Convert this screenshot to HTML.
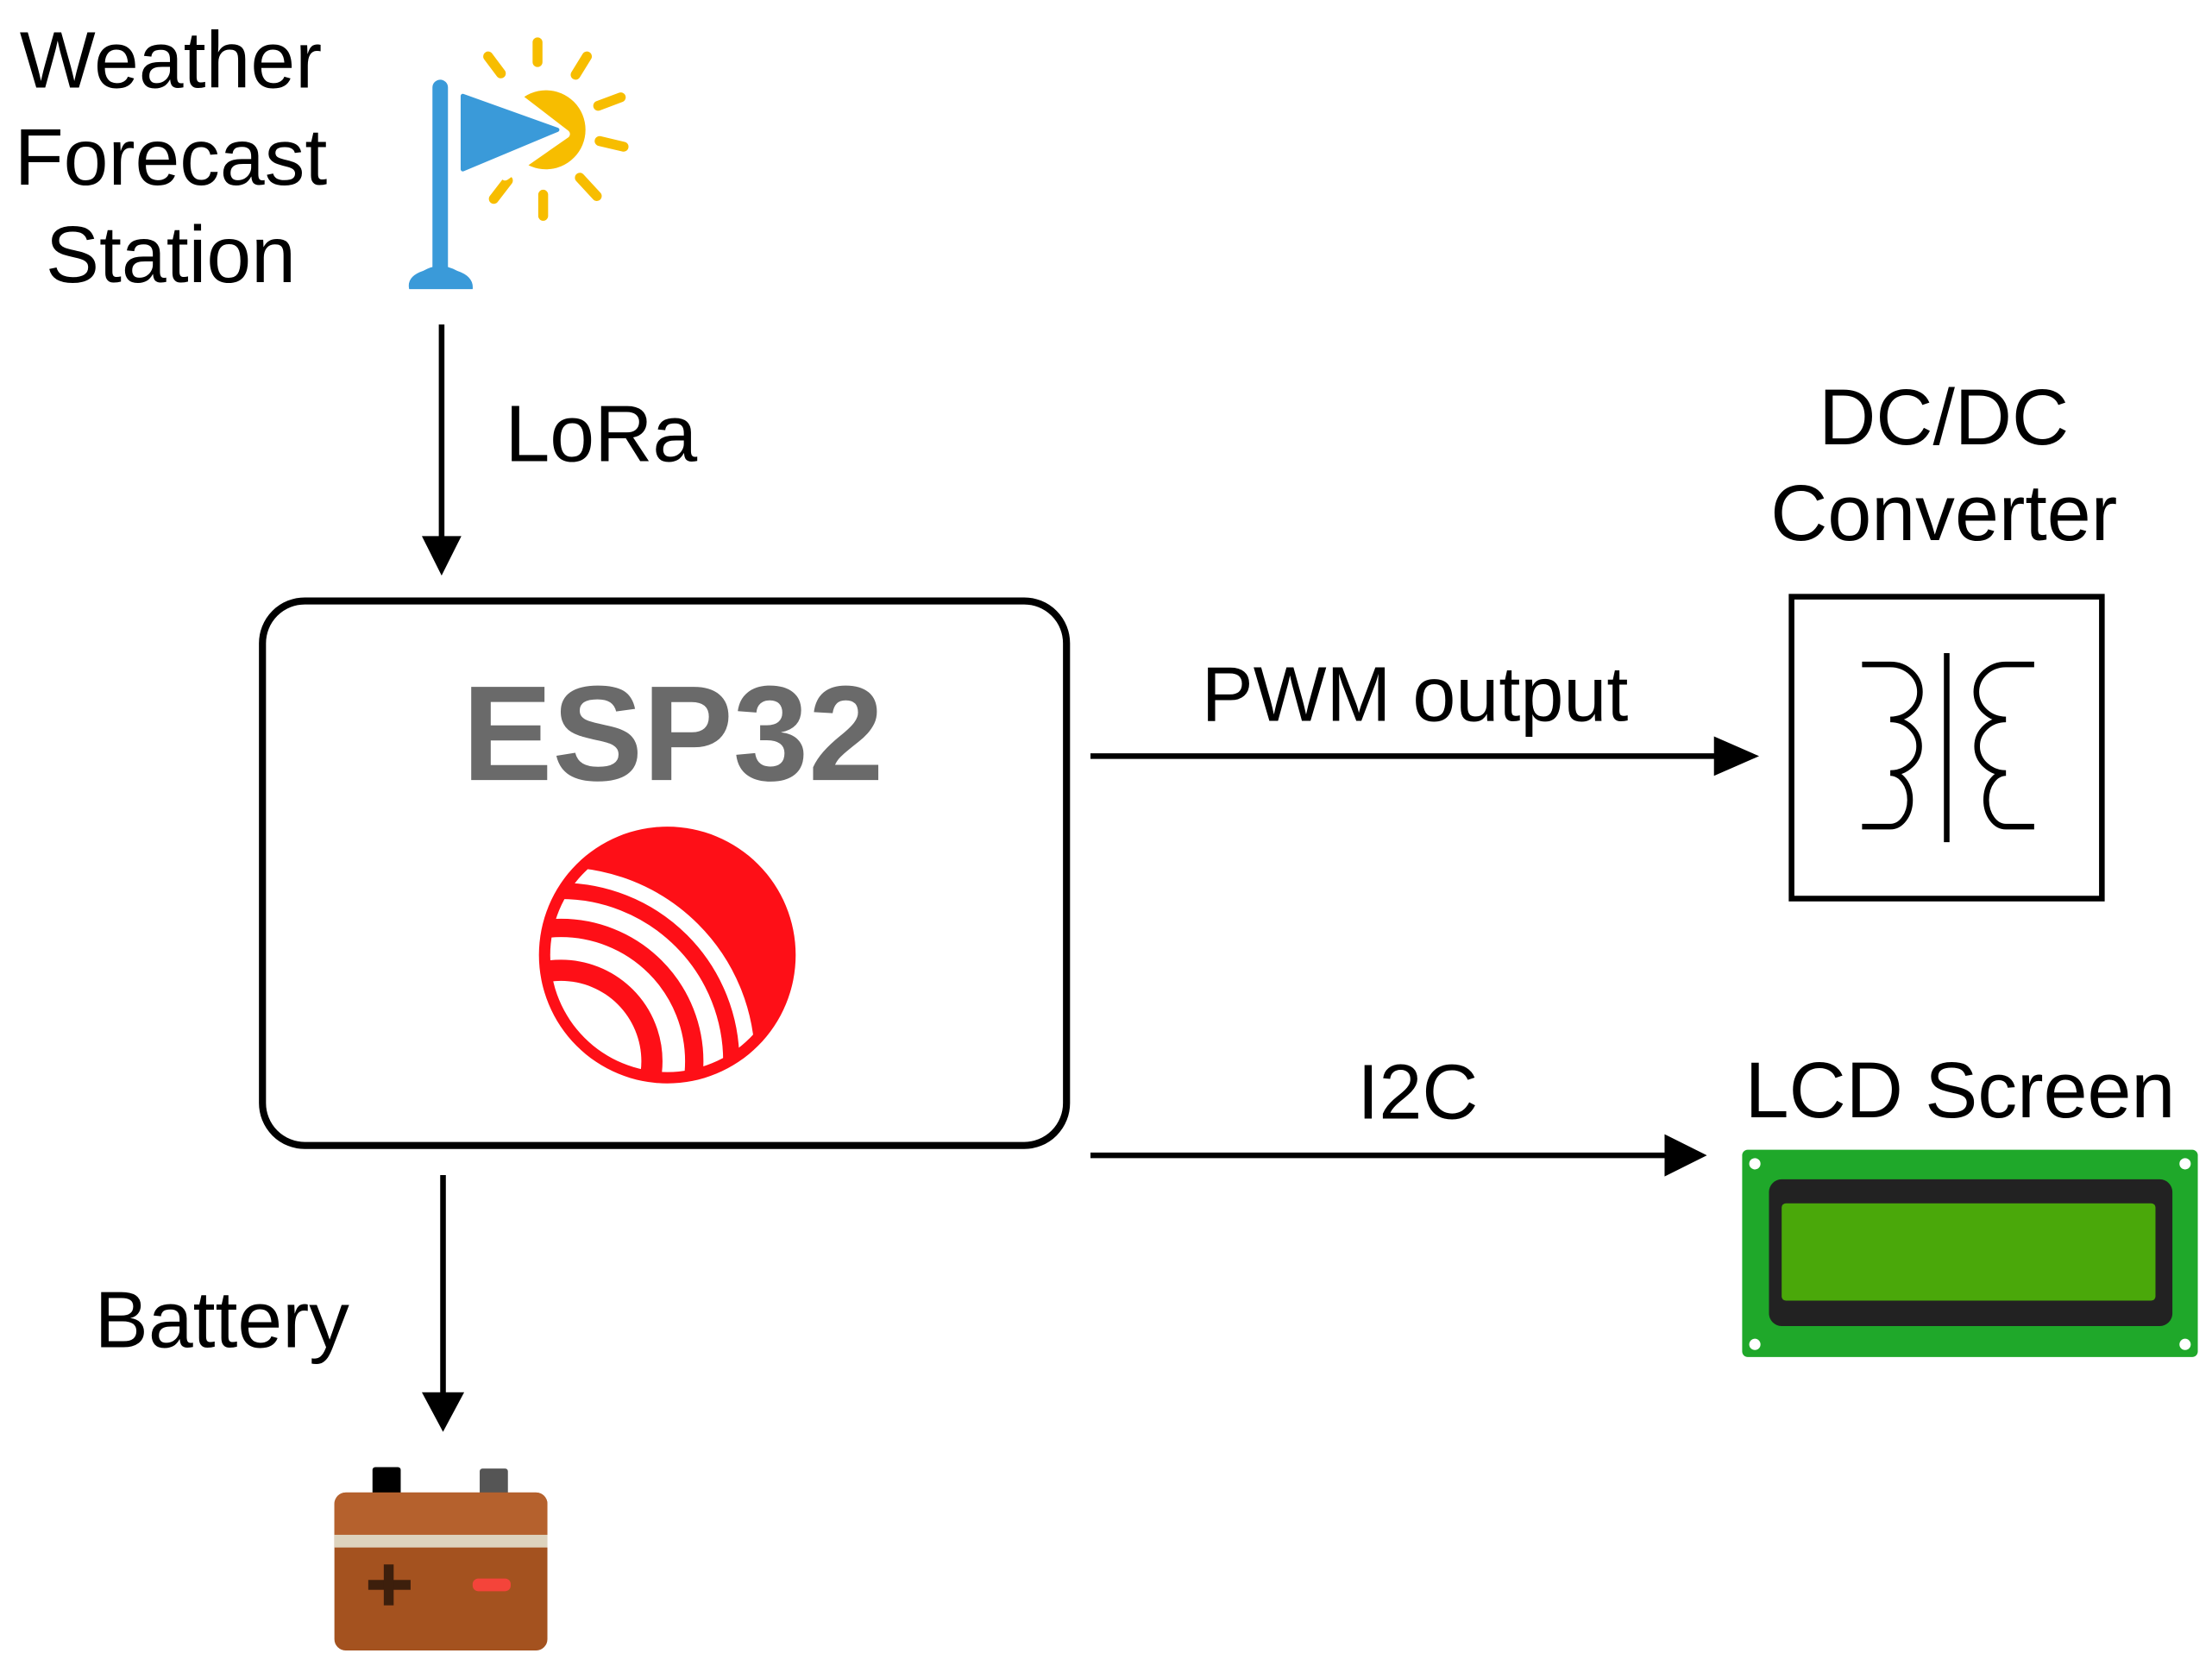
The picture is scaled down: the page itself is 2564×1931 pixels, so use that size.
<!DOCTYPE html>
<html><head><meta charset="utf-8"><style>
html,body{margin:0;padding:0;background:#fff;}
svg{display:block;}
text{font-family:"Liberation Sans",Arial,sans-serif;}
</style></head><body>
<svg width="2564" height="1931" viewBox="0 0 1568 1181" xmlns="http://www.w3.org/2000/svg">
<rect width="1568" height="1181" fill="#fff"/>
<defs>
<clipPath id="cc"><circle cx="473" cy="677" r="83"/></clipPath>
</defs>
<g font-size="57" fill="#000" text-anchor="middle">
<text x="121" y="62">Weather</text>
<text x="121" y="131">Forecast</text>
<text x="121" y="200">Station</text>
</g>
<line x1="312" y1="62" x2="312" y2="190" stroke="#3a9ad9" stroke-width="11" stroke-linecap="round"/>
<path d="M300 192 Q312 185 324 192 Q336 196 335 205 L290 205 Q288 196 300 192 Z" fill="#3a9ad9"/>
<g stroke="#f7bd00" stroke-width="7" stroke-linecap="round">
<line x1="381" y1="30" x2="381" y2="44"/>
<line x1="346" y1="40" x2="355" y2="52"/>
<line x1="416" y1="40" x2="408" y2="53"/>
<line x1="424" y1="75" x2="440" y2="69"/>
<line x1="425" y1="100" x2="442" y2="104"/>
<line x1="411" y1="126" x2="423" y2="139"/>
<line x1="385" y1="138" x2="385" y2="153"/>
<line x1="360" y1="128" x2="350" y2="141"/>
</g>
<circle cx="387" cy="92" r="28" fill="#f7bd00"/>
<path d="M358 62 L401 95 L358 125 Z" fill="#fff" stroke="#fff" stroke-width="6" stroke-linejoin="round"/>
<path d="M328 68 L395 92 L328 120 Z" fill="#3a9ad9" stroke="#3a9ad9" stroke-width="3" stroke-linejoin="round"/>
<line x1="313" y1="230" x2="313" y2="385" stroke="#000" stroke-width="4"/>
<path d="M299 380 L327 380 L313 408 Z" fill="#000"/>
<text x="358" y="327" font-size="57">LoRa</text>
<rect x="186" y="426" width="570" height="386" rx="30" fill="#fff" stroke="#000" stroke-width="5"/>
<text x="477" y="553" font-size="96" font-weight="bold" fill="#6a6a6a" text-anchor="middle">ESP32</text>
<circle cx="473" cy="677" r="91" fill="#fe0f17"/>
<g clip-path="url(#cc)">
<circle cx="397.6" cy="752.3" r="57" fill="#fff"/>
<g fill="none" stroke="#fff">
<circle cx="397.6" cy="752.3" r="80" stroke-width="16"/>
<circle cx="397.6" cy="752.3" r="108" stroke-width="14"/>
<circle cx="397.6" cy="752.3" r="132" stroke-width="11"/>
</g>
</g>
<line x1="773" y1="536" x2="1220" y2="536" stroke="#000" stroke-width="4"/>
<path d="M1215 522 L1247 536 L1215 550 Z" fill="#000"/>
<text x="1003" y="511" font-size="55" text-anchor="middle">PWM output</text>
<g font-size="56" text-anchor="middle">
<text x="1378" y="315">DC/DC</text>
<text x="1378" y="383">Converter</text>
</g>
<rect x="1270" y="423" width="220" height="214" fill="#fff" stroke="#000" stroke-width="4"/>
<line x1="1380" y1="463" x2="1380" y2="597" stroke="#000" stroke-width="4"/>
<path d="M1320 471 L1340 471 A14 13 0 0 1 1340 510 A14 13 0 0 1 1340 548 A14 19 0 0 1 1340 586 L1320 586" fill="none" stroke="#000" stroke-width="4"/>
<path d="M1442 471 L1422 471 A14 13 0 0 0 1422 510 A14 13 0 0 0 1422 548 A14 19 0 0 0 1422 586 L1442 586" fill="none" stroke="#000" stroke-width="4"/>
<line x1="773" y1="819" x2="1185" y2="819" stroke="#000" stroke-width="4"/>
<path d="M1180 804 L1210 819 L1180 834 Z" fill="#000"/>
<text x="1005" y="793" font-size="55" text-anchor="middle">I2C</text>
<text x="1237" y="792" font-size="56">LCD Screen</text>
<rect x="1235" y="815" width="323" height="147" rx="4" fill="#1fa82a"/>
<rect x="1254" y="836" width="286" height="104" rx="9" fill="#222"/>
<rect x="1263" y="853" width="265" height="69" rx="3" fill="#4aa80a"/>
<g fill="#fff"><circle cx="1244" cy="825" r="4"/><circle cx="1549" cy="825" r="4"/><circle cx="1244" cy="953" r="4"/><circle cx="1549" cy="953" r="4"/></g>
<line x1="314" y1="833" x2="314" y2="990" stroke="#000" stroke-width="4"/>
<path d="M299 987 L329 987 L314 1015 Z" fill="#000"/>
<text x="67" y="955" font-size="57">Battery</text>
<rect x="264" y="1040" width="20" height="20" rx="2" fill="#000"/>
<rect x="340" y="1041" width="20" height="19" rx="2" fill="#555"/>
<rect x="237" y="1058" width="151" height="112" rx="8" fill="#a4521f"/>
<path d="M245 1058 L380 1058 A8 8 0 0 1 388 1066 L388 1088 L237 1088 L237 1066 A8 8 0 0 1 245 1058 Z" fill="#b5612d"/>
<rect x="237" y="1088" width="151" height="9" fill="#ddd3bd"/>
<rect x="261" y="1120" width="30" height="7" fill="#3d1f0c"/>
<rect x="272" y="1109" width="7" height="29" fill="#3d1f0c"/>
<rect x="335" y="1119" width="27" height="9" rx="4" fill="#f4443a"/>
</svg>
</body></html>
